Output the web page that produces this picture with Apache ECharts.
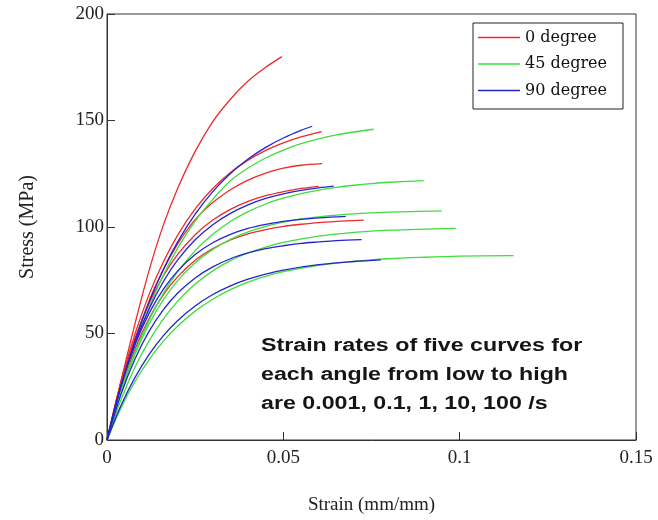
<!DOCTYPE html>
<html>
<head>
<meta charset="utf-8">
<script src="https://cdn.jsdelivr.net/npm/echarts/dist/echarts.min.js"></script>
<style>html,body{margin:0;padding:0;background:#fff;}#chart{width:658px;height:520px;}</style>
</head>
<body>
<div id="chart"></div>
<script>
// ---- data (strain mm/mm, stress MPa) ----
const legendNames = ['0 degree', '45 degree', '90 degree'];
const xTickLabels = ['0', '0.05', '0.1', '0.15'];
const yTickLabels = ['0', '50', '100', '150', '200'];
const noteLines = ['Strain rates of five curves for', 'each angle from low to high', 'are 0.001, 0.1, 1, 10, 100 /s'];

// 0 degree (red)
const deg0_c1 = [[0,0],[0.004,28],[0.008,55],[0.012,80],[0.016,101],[0.020,118],[0.025,135.5],[0.030,149.5],[0.035,160],[0.040,168.5],[0.045,175],[0.0496,180]];
const deg0_c2 = [[0,0],[0.004,27.6],[0.008,50.1],[0.012,68.6],[0.016,83.7],[0.020,96.1],[0.025,108.5],[0.030,118.1],[0.035,125.6],[0.040,131.4],[0.045,136],[0.050,139.5],[0.055,142.3],[0.0609,144.8]];
const deg0_c3 = [[0,0],[0.004,25],[0.008,47],[0.012,65.5],[0.016,80],[0.020,92],[0.024,101.5],[0.027,107],[0.030,111.5],[0.035,117.5],[0.040,122],[0.045,125.3],[0.050,127.6],[0.055,129],[0.061,129.8]];
const deg0_c4 = [[0,0],[0.004,27],[0.008,48],[0.012,64.4],[0.016,77.1],[0.020,87],[0.025,96.4],[0.030,103.3],[0.035,108.3],[0.040,112],[0.045,114.7],[0.050,116.6],[0.055,118.1],[0.060,119.1]];
const deg0_c5 = [[0,0],[0.004,24.3],[0.008,43],[0.012,57.3],[0.016,68.2],[0.020,76.6],[0.025,84.4],[0.030,89.9],[0.035,93.9],[0.040,96.8],[0.045,98.8],[0.050,100.3],[0.055,101.3],[0.060,102.1],[0.065,102.6],[0.0728,103.2]];

// 45 degree (green)
const deg45_c1 = [[0,0],[0.004,24.5],[0.008,45],[0.012,62.5],[0.016,77.5],[0.020,90],[0.025,102.8],[0.030,113],[0.035,121.7],[0.040,127.7],[0.045,132.4],[0.050,136.1],[0.055,139.1],[0.060,141.4],[0.065,143.2],[0.070,144.6],[0.0756,145.9]];
const deg45_c2 = [[0,0],[0.004,22.8],[0.008,41.4],[0.012,56.5],[0.016,68.9],[0.020,78.9],[0.025,88.9],[0.030,96.6],[0.035,102.6],[0.040,107.2],[0.045,110.8],[0.050,113.5],[0.055,115.7],[0.060,117.3],[0.065,118.6],[0.070,119.6],[0.075,120.4],[0.080,121],[0.0898,121.8]];
const deg45_c3 = [[0,0],[0.004,22.6],[0.008,40.5],[0.012,54.7],[0.016,65.9],[0.020,74.7],[0.025,83.2],[0.030,89.5],[0.035,94.2],[0.040,97.7],[0.045,100.3],[0.050,102.3],[0.055,103.8],[0.060,104.8],[0.065,105.6],[0.070,106.2],[0.080,107],[0.0949,107.6]];
const deg45_c4 = [[0,0],[0.004,19],[0.008,34.4],[0.012,46.8],[0.016,56.9],[0.020,65.1],[0.025,73.2],[0.030,79.4],[0.035,84.2],[0.040,87.8],[0.045,90.6],[0.050,92.8],[0.060,95.7],[0.070,97.5],[0.080,98.5],[0.0989,99.4]];
const deg45_c5 = [[0,0],[0.004,15.1],[0.008,27.6],[0.012,37.9],[0.016,46.4],[0.020,53.4],[0.025,60.5],[0.030,66.1],[0.035,70.6],[0.040,74.1],[0.045,76.8],[0.050,79],[0.060,82],[0.070,83.9],[0.080,85.1],[0.090,85.8],[0.100,86.3],[0.1153,86.6]];

// 90 degree (blue)
const deg90_c1 = [[0,0],[0.004,25.5],[0.008,47],[0.012,65],[0.016,80.2],[0.020,92.9],[0.025,106],[0.030,116.6],[0.035,125.1],[0.040,131.9],[0.045,137.4],[0.050,141.8],[0.055,145.4],[0.0582,147.3]];
const deg90_c2 = [[0,0],[0.004,25.6],[0.008,45.8],[0.012,61.8],[0.016,74.4],[0.020,84.4],[0.025,94],[0.030,101.1],[0.035,106.4],[0.040,110.4],[0.045,113.4],[0.050,115.6],[0.055,117.2],[0.060,118.4],[0.0643,119.2]];
const deg90_c3 = [[0,0],[0.004,25.6],[0.008,45],[0.012,59.7],[0.016,70.8],[0.020,79.3],[0.025,87.1],[0.030,92.6],[0.035,96.5],[0.040,99.3],[0.045,101.2],[0.050,102.6],[0.055,103.6],[0.060,104.3],[0.0677,105]];
const deg90_c4 = [[0,0],[0.004,21.6],[0.008,38.3],[0.012,51.2],[0.016,61.2],[0.020,68.9],[0.025,76.1],[0.030,81.3],[0.035,85.1],[0.040,87.8],[0.045,89.8],[0.050,91.2],[0.055,92.3],[0.060,93],[0.065,93.6],[0.0722,94.1]];
const deg90_c5 = [[0,0],[0.004,16.3],[0.008,29.5],[0.012,40.3],[0.016,49],[0.020,56],[0.025,62.9],[0.030,68.3],[0.035,72.4],[0.040,75.5],[0.045,77.9],[0.050,79.8],[0.060,82.3],[0.070,83.8],[0.0776,84.6]];

const groups = [
  { name: legendNames[0], color: '#ee2a2a', curves: [deg0_c1, deg0_c2, deg0_c3, deg0_c4, deg0_c5] },
  { name: legendNames[1], color: '#3ddd3d', curves: [deg45_c1, deg45_c2, deg45_c3, deg45_c4, deg45_c5] },
  { name: legendNames[2], color: '#2424cc', curves: [deg90_c1, deg90_c2, deg90_c3, deg90_c4, deg90_c5] }
];

const series = [];
groups.forEach(g => {
  g.curves.forEach(c => {
    series.push({
      type: 'line', name: g.name, data: c, smooth: 0.35, symbol: 'none',
      lineStyle: { color: g.color, width: 1.3 }, itemStyle: { color: g.color },
      emphasis: { disabled: true }
    });
  });
});

const serif = '"Liberation Serif", "Times New Roman", serif';
const chart = echarts.init(document.getElementById('chart'), null, { renderer: 'canvas' });
chart.setOption({
  animation: false,
  backgroundColor: '#ffffff',
  grid: { left: 107, right: 22, top: 14, bottom: 79, show: true, borderColor: '#333', borderWidth: 1 },
  xAxis: {
    type: 'value', min: 0, max: 0.15, interval: 0.05,
    axisLine: { lineStyle: { color: '#333', width: 1 } },
    axisTick: { inside: true, length: 8, lineStyle: { color: '#333' } },
    splitLine: { show: false },
    axisLabel: { margin: 9, color: '#222', fontFamily: serif, fontSize: 19,
      formatter: (v, i) => xTickLabels[i] },
    name: 'Strain (mm/mm)', nameLocation: 'middle', nameGap: 56,
    nameTextStyle: { fontFamily: serif, fontSize: 19, color: '#222' }
  },
  yAxis: {
    type: 'value', min: 0, max: 200, interval: 50,
    axisLine: { show: true, lineStyle: { color: '#333', width: 1 } },
    axisTick: { show: true, inside: true, length: 8, lineStyle: { color: '#333' } },
    splitLine: { show: false },
    axisLabel: { margin: 3, color: '#222', fontFamily: serif, fontSize: 19,
      formatter: (v, i) => yTickLabels[i] },
    name: 'Stress (MPa)', nameLocation: 'middle', nameGap: 69,
    nameTextStyle: { fontFamily: serif, fontSize: 20, color: '#222' }
  },
  legend: {
    data: legendNames, orient: 'vertical', left: 473, top: 23,
    padding: [6, 16, 10, 5], icon: 'rect', itemWidth: 42, itemHeight: 1.5, itemGap: 9.5,
    borderColor: '#222', borderWidth: 1, backgroundColor: '#fff',
    selectedMode: false,
    textStyle: { fontFamily: '"DejaVu Serif", serif', fontSize: 16, color: '#111', lineHeight: 17 }
  },
  graphic: noteLines.map((t, i) => ({
    type: 'text', x: 261, y: 346 + i * 29, scaleX: 1.29, z: 10,
    style: { text: t, x: 0, y: 0, align: 'left', verticalAlign: 'middle',
      font: 'bold 18px "Liberation Sans", Arial, sans-serif', fill: '#151515' }
  })),
  series: series
});
</script>
</body>
</html>
